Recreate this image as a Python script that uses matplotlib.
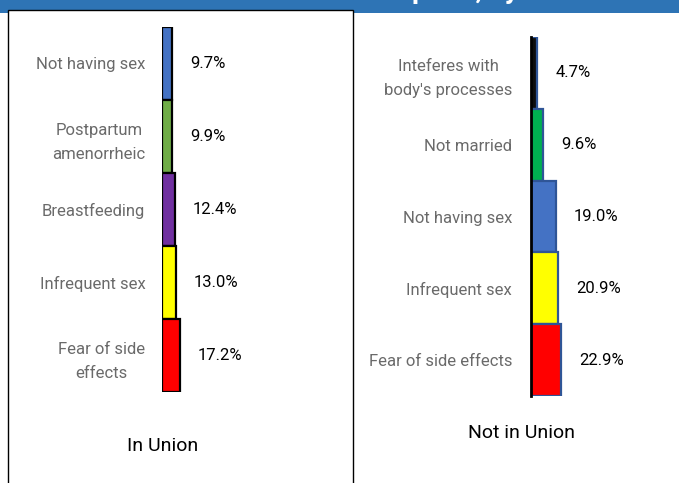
import matplotlib
matplotlib.use("Agg")
import matplotlib.pyplot as plt
from matplotlib.patches import Rectangle

plt.rcParams["font.family"] = ["Roboto", "DejaVu Sans"]

W, H = 679, 483  # figure size in pixels
DPI = 100

# in union
union_labels = [
    "Not having sex",
    "Postpartum\namenorrheic",
    "Breastfeeding",
    "Infrequent sex",
    "Fear of side\neffects",
]
union_values = [9.7, 9.9, 12.4, 13.0, 17.2]
union_colors = ["#4472C4", "#70AD47", "#7030A0", "#FFFF00", "#FF0000"]

# not in union
nonunion_labels = [
    "Inteferes with\nbody's processes",
    "Not married",
    "Not having sex",
    "Infrequent sex",
    "Fear of side effects",
]
nonunion_values = [4.7, 9.6, 19.0, 20.9, 22.9]
nonunion_colors = ["#0D0D0D", "#00B050", "#4472C4", "#FFFF00", "#FF0000"]

title = "Reasons for Non-Use of Contraception, by Union Status"


def px_rect(x0, y0, x1, y1):
    # pixel box (top-left origin) -> figure fraction rect
    return [x0 / W, 1 - y1 / H, (x1 - x0) / W, (y1 - y0) / H]


fig = plt.figure(figsize=(W / DPI, H / DPI), dpi=DPI)

# blue banner with the (mostly cropped) title
fig.add_artist(Rectangle((0, 1 - 13 / H), 1, 13 / H, transform=fig.transFigure,
                         facecolor="#2E74B5", edgecolor="none", zorder=0))
fig.text(0.5, 1 + 2 / H, title, color="white", fontsize=20, fontweight="bold",
         ha="center", va="baseline")

# white box around the left panel
fig.add_artist(Rectangle((8 / W, -0.05), (353 - 8) / W, 1.05 - 10 / H,
                         transform=fig.transFigure, facecolor="white",
                         edgecolor="black", lw=1.0, zorder=1))


def panel(rect, labels, values, colors, xmax, edge, gap, name, name_xy):
    ax = fig.add_axes(rect, zorder=2)
    ax.patch.set_alpha(0)
    pos = range(len(values))
    ax.barh(pos, values, height=1.0, color=colors, edgecolor=edge, lw=1.6)
    ax.set_ylim(len(values) - 0.5, -0.5)
    ax.set_xlim(0, xmax)
    ax.set_yticks(list(pos))
    ax.set_yticklabels(labels, fontsize=12, color="#6A6A6A")
    for lab in ax.get_yticklabels():
        lab.set_linespacing(1.75)
        lab.set_multialignment("center")
    ax.tick_params(axis="y", length=0, pad=gap)
    ax.set_xticks([])
    for s in ax.spines.values():
        s.set_visible(False)
    for i, v in enumerate(values):
        ax.annotate(f"{v:.1f}%", (v, i), xytext=(13, 0), textcoords="offset points",
                    ha="left", va="center", fontsize=12, color="black")
    fig.text(name_xy[0] / W, 1 - name_xy[1] / H, name, fontsize=14,
             ha="center", va="center", color="black", zorder=3)
    return ax


panel(px_rect(162, 27, 312, 392), union_labels, union_values, union_colors,
      150 / 1.05, "black", 12, "In Union", (163, 446))

ax2 = panel(px_rect(531, 37, 661, 396), nonunion_labels, nonunion_values,
            nonunion_colors, 100, "#2F5597", 13.5, "Not in Union", (521, 433))
ax2.spines["left"].set_visible(True)
ax2.spines["left"].set_color("black")
ax2.spines["left"].set_linewidth(2)

fig.savefig("out.png", dpi=DPI)
